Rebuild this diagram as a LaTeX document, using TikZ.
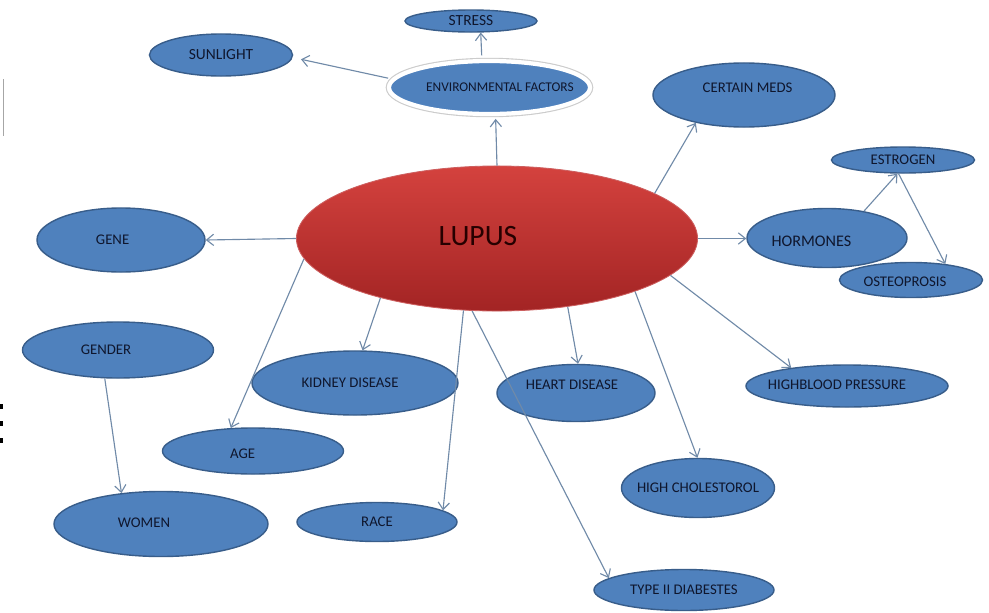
\documentclass[tikz,border=0pt]{standalone}
\usepackage{fontspec}
\setmainfont{Carlito}
\usetikzlibrary{shapes.geometric,arrows.meta}

\definecolor{bubblefill}{RGB}{79,129,189}
\definecolor{bubbleline}{RGB}{56,93,138}
\definecolor{labeltext}{RGB}{15,22,45}
\definecolor{linkcol}{RGB}{112,138,168}
\definecolor{lupustop}{RGB}{212,66,62}
\definecolor{lupusbot}{RGB}{163,36,36}
\definecolor{lupusline}{RGB}{205,95,95}

\tikzset{
  bubble/.style={ellipse, draw=bubbleline, line width=1pt, fill=bubblefill, inner sep=0pt, text=labeltext, font=\fontsize{10.5}{12}\selectfont},
  bubbletext/.style={inner sep=0pt, text=labeltext, font=\fontsize{10.5}{12}\selectfont},
  envring/.style={draw=white, line width=3pt, preaction={draw=gray!40, line width=4.6pt}},
  link/.style={draw=linkcol, line width=0.8pt, -{Straight Barb[length=5pt,width=8pt]}}
}

\begin{document}
\begin{tikzpicture}[x=0.025cm, y=-0.025cm]
\fill [white] (0,0) rectangle (989,613);
\useasboundingbox (0,0) rectangle (989,613);

\draw [gray!70, line width=0.6pt] (3,79) -- (3,136);
\fill (0,404) rectangle (3.5,409);
\fill (0,421) rectangle (3.5,426);
\fill (0,438) rectangle (3.5,443);

\node [ellipse, draw=lupusline, line width=0.6pt, top color=lupustop, bottom color=lupusbot, minimum width=10.025cm, minimum height=3.625cm, label={[bubbletext, text=black!85!red, font=\fontsize{21}{24}\selectfont, xshift=-0.475cm, yshift=0.06cm]center:LUPUS}] (lupus) at (497,238.5) {};

\node [bubble, envring, minimum width=5.025cm, minimum height=1.325cm, label={[bubbletext, font=\fontsize{9.5}{11}\selectfont, xshift=0.26cm]center:ENVIRONMENTAL FACTORS}] (envfac) at (489.5,87.5) {};
\node [bubble, minimum width=3.3cm, minimum height=0.55cm, font=\fontsize{11}{13}\selectfont] (stress) at (471,21) {STRESS};
\node [bubble, minimum width=3.575cm, minimum height=1.05cm, font=\fontsize{11}{13}\selectfont] (sunlight) at (221,55) {SUNLIGHT};
\node [bubble, minimum width=4.55cm, minimum height=1.6cm, label={[bubbletext, xshift=0.09cm, yshift=0.175cm]center:CERTAIN MEDS}] (meds) at (744,95) {};
\node [bubble, minimum width=3.575cm, minimum height=0.65cm] (estrogen) at (903,160) {ESTROGEN};
\node [bubble, minimum width=4cm, minimum height=1.475cm, label={[bubbletext, font=\fontsize{11.5}{13}\selectfont, xshift=-0.39cm, yshift=-0.075cm]center:HORMONES}] (hormones) at (827,238) {};
\node [bubble, minimum width=3.575cm, minimum height=0.875cm, label={[bubbletext, xshift=-0.15cm, yshift=-0.05cm]center:OSTEOPROSIS}] (osteo) at (911,280) {};
\node [bubble, minimum width=4.2cm, minimum height=1.6cm, label={[bubbletext, xshift=-0.21cm]center:GENE}] (gene) at (121,240) {};
\node [bubble, minimum width=4.775cm, minimum height=1.4cm, label={[bubbletext, xshift=-0.3cm]center:GENDER}] (gender) at (118,350) {};
\node [bubble, minimum width=5.15cm, minimum height=1.6cm, label={[bubbletext, xshift=-0.125cm]center:KIDNEY DISEASE}] (kidney) at (355,383) {};
\node [bubble, minimum width=3.95cm, minimum height=1.425cm, label={[bubbletext, xshift=-0.1cm, yshift=0.2cm]center:HEART DISEASE}] (heart) at (576,393) {};
\node [bubble, minimum width=5.05cm, minimum height=1.05cm, label={[bubbletext, xshift=-0.25cm, yshift=0.04cm]center:HIGHBLOOD PRESSURE}] (bloodp) at (847,386) {};
\node [bubble, minimum width=4.525cm, minimum height=1.15cm, label={[bubbletext, xshift=-0.26cm, yshift=-0.075cm]center:AGE}] (age) at (253,451) {};
\node [bubble, minimum width=3.825cm, minimum height=1.475cm, label={[bubbletext]center:HIGH CHOLESTOROL}] (chol) at (698,488) {};
\node [bubble, minimum width=5.35cm, minimum height=1.625cm, label={[bubbletext, xshift=-0.425cm, yshift=0.025cm]center:WOMEN}] (women) at (161,524) {};
\node [bubble, minimum width=4cm, minimum height=0.975cm] (race) at (377,522) {RACE};
\node [bubble, minimum width=4.5cm, minimum height=1.025cm] (diabetes) at (684,590) {TYPE II DIABESTES};

%------------\\

\draw [link, shorten >=2pt] (lupus.90) -- (envfac.-78);
\draw [link, shorten <=2.5pt] (envfac.105) -- (stress.-50);
\draw [link, shorten <=2.5pt, shorten >=6pt] (envfac.175) -- (sunlight.-2);
\draw [link] (lupus.16) -- (meds.210);
\draw [link] (lupus.east) -- (lupus.east -| hormones.west);
\draw [link] (hormones.36) -- (estrogen.248);
\draw [link] (estrogen.252) -- (osteo.25);
\draw [link] (lupus.west) -- (gene.east);
\draw [link] (lupus.186) -- (age.134);
\draw [link] (lupus.207) -- (kidney.77);
\draw [link] (lupus.245) -- (race.10);
\draw [link] (lupus.251) -- (diabetes.171);
\draw [link] (lupus.316) -- (heart.86);
\draw [link] (lupus.339) -- (chol.91);
\draw [link] (lupus.348) -- (bloodp.162);
\draw [link] (gender.245) -- (women.142);
\end{tikzpicture}
\end{document}
